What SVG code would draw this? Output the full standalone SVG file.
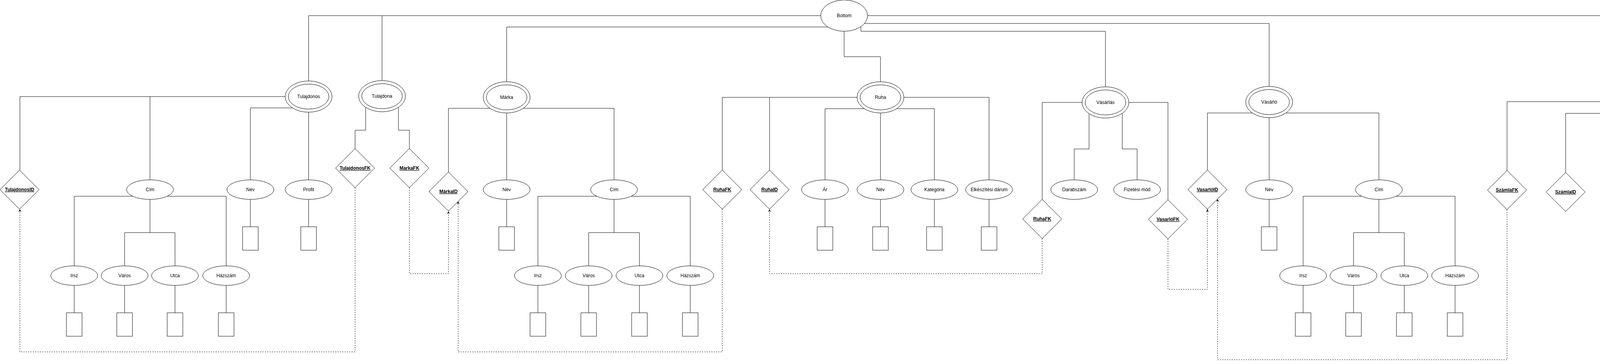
<svg xmlns="http://www.w3.org/2000/svg" width="4359" height="931" viewBox="0 0 4359 931">
<defs>
<marker id="arr" viewBox="0 0 10 10" refX="10" refY="5" markerWidth="8" markerHeight="7" orient="auto" markerUnits="userSpaceOnUse">
<path d="M0,0 L10,5 L0,10 L3,5 z" fill="#000"/>
</marker>
<style>
.ln{fill:none;stroke:#000;stroke-width:1}
.ds{fill:none;stroke:#000;stroke-width:1;stroke-dasharray:3 3}
.sh{fill:#fff;stroke:#000;stroke-width:1}
.t{font-family:"Liberation Sans",Arial,Helvetica,sans-serif;font-size:12px;text-anchor:middle;fill:#000}
.k{font-weight:bold;text-decoration:underline}
</style>
</defs>
<rect width="4359" height="931" fill="#fff"/>
<g id="connectors">
<!-- Boltom to entities -->
<path class="ln" d="M2101,40 H790 V207"/>
<path class="ln" d="M978,40 V206"/>
<path class="ln" d="M2120,69 H1297 V209"/>
<path class="ln" d="M2161,80 V145 H2254 V209"/>
<path class="ln" d="M2204,68 V80 H2830 V222"/>
<path class="ln" d="M2213,60 H3249 V221"/>
<path class="ln" d="M2221,40 H4158 V220"/>
<!-- Tulajdonos -->
<path class="ln" d="M730,247 H51 V435"/>
<path class="ln" d="M384,247 V460"/>
<path class="ln" d="M748.7,276 H641 V460"/>
<path class="ln" d="M790,287 V460"/>
<path class="ln" d="M340,502 H190 V680"/>
<path class="ln" d="M428,502 H579 V680"/>
<path class="ln" d="M384,510 V595 H319 V680"/>
<path class="ln" d="M384,595 H448 V680"/>
<path class="ln" d="M190,730 V800 M319,730 V800 M448,730 V800 M579,730 V800"/>
<path class="ln" d="M641,510 V580 M790,510 V580"/>
<!-- Tulajdona -->
<path class="ln" d="M936,274.6 V333 H909 V380"/>
<path class="ln" d="M1020,274.6 V333 H1048 V380"/>
<path class="ds" d="M909,480 V900 H51 V535" marker-end="url(#arr)"/>
<path class="ds" d="M1048,480 V700 H1148 V540" marker-end="url(#arr)"/>
<!-- Marka -->
<path class="ln" d="M1254,277 H1148 V440"/>
<path class="ln" d="M1340,277 H1572 V460"/>
<path class="ln" d="M1297,289 V460"/>
<path class="ln" d="M1297,510 V580"/>
<path class="ln" d="M1528,502 H1377 V680"/>
<path class="ln" d="M1616,502 H1767 V680"/>
<path class="ln" d="M1572,510 V595 H1507 V680"/>
<path class="ln" d="M1572,595 H1637 V680"/>
<path class="ln" d="M1377,730 V800 M1507,730 V800 M1637,730 V800 M1767,730 V800"/>
<!-- Ruha -->
<path class="ln" d="M2194,249 H1849 V435"/>
<path class="ln" d="M1970,249 V435"/>
<path class="ln" d="M2314,249 H2532 V460"/>
<path class="ln" d="M2212.7,278 H2112 V460"/>
<path class="ln" d="M2295.3,278 H2392 V460"/>
<path class="ln" d="M2254,289 V460"/>
<path class="ln" d="M2112,510 V580 M2254,510 V580 M2392,510 V580 M2532,510 V580"/>
<path class="ds" d="M1849,535 V900 H1173 V515" marker-end="url(#arr)"/>
<!-- Vasarlas -->
<path class="ln" d="M2770,262 H2668 V510"/>
<path class="ln" d="M2890,262 H2990 V511"/>
<path class="ln" d="M2788,290.6 V381 H2750 V460"/>
<path class="ln" d="M2873,290 V381 H2911 V460"/>
<path class="ds" d="M2668,610 V700 H1970 V535" marker-end="url(#arr)"/>
<path class="ds" d="M2990,611 V740 H3091 V535" marker-end="url(#arr)"/>
<!-- Vasarlo -->
<path class="ln" d="M3206,289 H3091 V435"/>
<path class="ln" d="M3292,289 H3530 V460"/>
<path class="ln" d="M3249,301 V460"/>
<path class="ln" d="M3249,510 V580"/>
<path class="ln" d="M3486,502 H3336 V680"/>
<path class="ln" d="M3574,502 H3725 V680"/>
<path class="ln" d="M3530,510 V595 H3465 V680"/>
<path class="ln" d="M3530,595 H3595 V680"/>
<path class="ln" d="M3336,730 V800 M3465,730 V800 M3595,730 V800 M3725,730 V800"/>
<!-- Szamla -->
<path class="ln" d="M4098,260 H3858 V436"/>
<path class="ln" d="M4118,290 H4008 V441"/>
<path class="ln" d="M4198,290 H4298 V466"/>
<path class="ln" d="M4158,300 V466"/>
<path class="ln" d="M4158,516 V587 M4298,516 V587"/>
<path class="ds" d="M3858,536 V920 H3117 V509" marker-end="url(#arr)"/>
</g>

<!-- Main entity: Boltom -->
<g id="boltom"><ellipse class="sh" cx="2161" cy="40" rx="60" ry="40"/><text class="t" x="2161" y="44">Boltom</text></g>

<!-- Tulajdonos -->
<g id="tulajdonos"><ellipse class="sh" cx="790" cy="247" rx="60" ry="40"/><ellipse class="sh" cx="790" cy="247" rx="52" ry="32"/><text class="t" x="790" y="251">Tulajdonos</text></g>
<g id="tulajdonosID"><polygon class="sh" points="50,435 100,485 50,535 0,485"/><text class="t k" x="50" y="489">TulajdonosID</text></g>
<g id="tulajdonos-cim"><ellipse class="sh" cx="384" cy="485" rx="60" ry="25"/><text class="t" x="384" y="489">Cím</text></g>
<g id="tulajdonos-nev"><ellipse class="sh" cx="641" cy="485" rx="60" ry="25"/><text class="t" x="641" y="489">Név</text></g>
<g id="tulajdonos-nev-box"><rect class="sh" x="621" y="580" width="40" height="60"/></g>
<g id="tulajdonos-profit"><ellipse class="sh" cx="790" cy="485" rx="60" ry="25"/><text class="t" x="790" y="489">Profit</text></g>
<g id="tulajdonos-profit-box"><rect class="sh" x="770" y="580" width="40" height="60"/></g>
<g id="tulajdonos-irsz"><ellipse class="sh" cx="190" cy="705" rx="60" ry="25"/><text class="t" x="190" y="709">Irsz</text></g>
<g id="tulajdonos-varos"><ellipse class="sh" cx="319" cy="705" rx="60" ry="25"/><text class="t" x="319" y="709">Város</text></g>
<g id="tulajdonos-utca"><ellipse class="sh" cx="448" cy="705" rx="60" ry="25"/><text class="t" x="448" y="709">Utca</text></g>
<g id="tulajdonos-hazszam"><ellipse class="sh" cx="579" cy="705" rx="60" ry="25"/><text class="t" x="579" y="709">Házszám</text></g>
<g id="tulajdonos-irsz-box"><rect class="sh" x="170" y="800" width="40" height="60"/></g>
<g id="tulajdonos-varos-box"><rect class="sh" x="299" y="800" width="40" height="60"/></g>
<g id="tulajdonos-utca-box"><rect class="sh" x="428" y="800" width="40" height="60"/></g>
<g id="tulajdonos-hazszam-box"><rect class="sh" x="559" y="800" width="40" height="60"/></g>

<!-- Tulajdona -->
<g id="tulajdona"><ellipse class="sh" cx="978" cy="246" rx="60" ry="40"/><ellipse class="sh" cx="978" cy="246" rx="52" ry="32"/><text class="t" x="978" y="250">Tulajdona</text></g>
<g id="tulajdonosFK"><polygon class="sh" points="909,380 959,430 909,480 859,430"/><text class="t k" x="909" y="434">TulajdonosFK</text></g>
<g id="markaFK"><polygon class="sh" points="1048,380 1098,430 1048,480 998,430"/><text class="t k" x="1048" y="434">MarkaFK</text></g>

<!-- Marka -->
<g id="marka"><ellipse class="sh" cx="1297" cy="249" rx="60" ry="40"/><ellipse class="sh" cx="1297" cy="249" rx="52" ry="32"/><text class="t" x="1297" y="253">Márka</text></g>
<g id="markaID"><polygon class="sh" points="1148,440 1198,490 1148,540 1098,490"/><text class="t k" x="1148" y="494">MárkaID</text></g>
<g id="marka-nev"><ellipse class="sh" cx="1297" cy="485" rx="60" ry="25"/><text class="t" x="1297" y="489">Név</text></g>
<g id="marka-nev-box"><rect class="sh" x="1277" y="580" width="40" height="60"/></g>
<g id="marka-cim"><ellipse class="sh" cx="1572" cy="485" rx="60" ry="25"/><text class="t" x="1572" y="489">Cím</text></g>
<g id="marka-irsz"><ellipse class="sh" cx="1377" cy="705" rx="60" ry="25"/><text class="t" x="1377" y="709">Irsz</text></g>
<g id="marka-varos"><ellipse class="sh" cx="1507" cy="705" rx="60" ry="25"/><text class="t" x="1507" y="709">Város</text></g>
<g id="marka-utca"><ellipse class="sh" cx="1637" cy="705" rx="60" ry="25"/><text class="t" x="1637" y="709">Utca</text></g>
<g id="marka-hazszam"><ellipse class="sh" cx="1767" cy="705" rx="60" ry="25"/><text class="t" x="1767" y="709">Házszám</text></g>
<g id="marka-irsz-box"><rect class="sh" x="1357" y="800" width="40" height="60"/></g>
<g id="marka-varos-box"><rect class="sh" x="1487" y="800" width="40" height="60"/></g>
<g id="marka-utca-box"><rect class="sh" x="1617" y="800" width="40" height="60"/></g>
<g id="marka-hazszam-box"><rect class="sh" x="1747" y="800" width="40" height="60"/></g>

<!-- Ruha -->
<g id="ruha"><ellipse class="sh" cx="2254" cy="249" rx="60" ry="40"/><ellipse class="sh" cx="2254" cy="249" rx="52" ry="32"/><text class="t" x="2254" y="253">Ruha</text></g>
<g id="ruha-ruhaFK"><polygon class="sh" points="1849,435 1899,485 1849,535 1799,485"/><text class="t k" x="1849" y="489">RuhaFK</text></g>
<g id="ruhaID"><polygon class="sh" points="1970,435 2020,485 1970,535 1920,485"/><text class="t k" x="1970" y="489">RuhaID</text></g>
<g id="ruha-ar"><ellipse class="sh" cx="2112" cy="485" rx="60" ry="25"/><text class="t" x="2112" y="489">Ár</text></g>
<g id="ruha-nev"><ellipse class="sh" cx="2254" cy="485" rx="60" ry="25"/><text class="t" x="2254" y="489">Név</text></g>
<g id="ruha-kategoria"><ellipse class="sh" cx="2392" cy="485" rx="60" ry="25"/><text class="t" x="2392" y="489">Kategória</text></g>
<g id="ruha-datum"><ellipse class="sh" cx="2532" cy="485" rx="60" ry="25"/><text class="t" x="2532" y="489">Elkészítési dárum</text></g>
<g id="ruha-ar-box"><rect class="sh" x="2092" y="580" width="40" height="60"/></g>
<g id="ruha-nev-box"><rect class="sh" x="2234" y="580" width="40" height="60"/></g>
<g id="ruha-kategoria-box"><rect class="sh" x="2372" y="580" width="40" height="60"/></g>
<g id="ruha-datum-box"><rect class="sh" x="2512" y="580" width="40" height="60"/></g>

<!-- Vasarlas -->
<g id="vasarlas"><ellipse class="sh" cx="2830" cy="262" rx="60" ry="40"/><ellipse class="sh" cx="2830" cy="262" rx="52" ry="32"/><text class="t" x="2830" y="266">Vásárlás</text></g>
<g id="vasarlas-ruhaFK"><polygon class="sh" points="2668,510 2718,560 2668,610 2618,560"/><text class="t k" x="2668" y="564">RuhaFK</text></g>
<g id="vasarlas-darabszam"><ellipse class="sh" cx="2750" cy="485" rx="60" ry="25"/><text class="t" x="2750" y="489">Darabszám</text></g>
<g id="vasarlas-fizetes"><ellipse class="sh" cx="2911" cy="485" rx="60" ry="25"/><text class="t" x="2911" y="489">Fizetési mód</text></g>
<g id="vasarloFK"><polygon class="sh" points="2990,511 3040,561 2990,611 2940,561"/><text class="t k" x="2990" y="565">VasarlóFK</text></g>

<!-- Vasarlo -->
<g id="vasarlo"><ellipse class="sh" cx="3249" cy="261" rx="60" ry="40"/><ellipse class="sh" cx="3249" cy="261" rx="52" ry="32"/><text class="t" x="3249" y="265">Vásárló</text></g>
<g id="vasarloID"><polygon class="sh" points="3091,435 3141,485 3091,535 3041,485"/><text class="t k" x="3091" y="489">VasarlóID</text></g>
<g id="vasarlo-nev"><ellipse class="sh" cx="3249" cy="485" rx="60" ry="25"/><text class="t" x="3249" y="489">Név</text></g>
<g id="vasarlo-nev-box"><rect class="sh" x="3229" y="580" width="40" height="60"/></g>
<g id="vasarlo-cim"><ellipse class="sh" cx="3530" cy="485" rx="60" ry="25"/><text class="t" x="3530" y="489">Cím</text></g>
<g id="vasarlo-irsz"><ellipse class="sh" cx="3336" cy="705" rx="60" ry="25"/><text class="t" x="3336" y="709">Irsz</text></g>
<g id="vasarlo-varos"><ellipse class="sh" cx="3465" cy="705" rx="60" ry="25"/><text class="t" x="3465" y="709">Város</text></g>
<g id="vasarlo-utca"><ellipse class="sh" cx="3595" cy="705" rx="60" ry="25"/><text class="t" x="3595" y="709">Utca</text></g>
<g id="vasarlo-hazszam"><ellipse class="sh" cx="3725" cy="705" rx="60" ry="25"/><text class="t" x="3725" y="709">Házszám</text></g>
<g id="vasarlo-irsz-box"><rect class="sh" x="3316" y="800" width="40" height="60"/></g>
<g id="vasarlo-varos-box"><rect class="sh" x="3445" y="800" width="40" height="60"/></g>
<g id="vasarlo-utca-box"><rect class="sh" x="3575" y="800" width="40" height="60"/></g>
<g id="vasarlo-hazszam-box"><rect class="sh" x="3705" y="800" width="40" height="60"/></g>

<!-- Szamla -->
<g id="szamla"><ellipse class="sh" cx="4158" cy="260" rx="60" ry="40"/><ellipse class="sh" cx="4158" cy="260" rx="52" ry="32"/><text class="t" x="4158" y="264">Számla</text></g>
<g id="szamlaFK"><polygon class="sh" points="3858,436 3908,486 3858,536 3808,486"/><text class="t k" x="3858" y="490">SzámlaFK</text></g>
<g id="szamlaID"><polygon class="sh" points="4008,441 4058,491 4008,541 3958,491"/><text class="t k" x="4008" y="495">SzámlaID</text></g>
<g id="szamla-datum"><ellipse class="sh" cx="4158" cy="491" rx="60" ry="25"/><text class="t" x="4158" y="495">Dátum</text></g>
<g id="szamla-osszeg"><ellipse class="sh" cx="4298" cy="491" rx="60" ry="25"/><text class="t" x="4298" y="495">Összeg</text></g>
<g id="szamla-datum-box"><rect class="sh" x="4138" y="587" width="40" height="60"/></g>
<g id="szamla-osszeg-box"><rect class="sh" x="4278" y="587" width="40" height="60"/></g>
</svg>
